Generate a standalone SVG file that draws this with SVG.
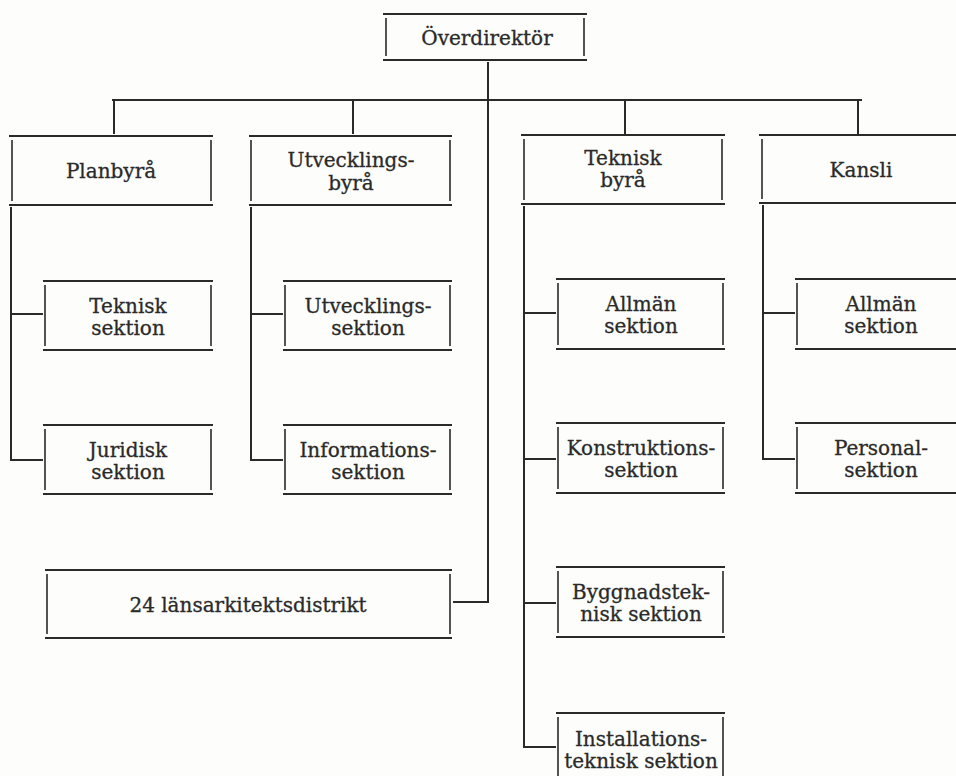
<svg xmlns="http://www.w3.org/2000/svg" width="956" height="776" viewBox="0 0 956 776">
<style>
.ln{stroke:#2a2a2a;stroke-width:2;fill:none;stroke-linecap:butt}
.sd{stroke:#2a2a2a;stroke-width:1.6;fill:none}
.t{font-family:"DejaVu Serif","Liberation Serif",serif;font-size:20px;fill:#2a2a2a;stroke:#2a2a2a;stroke-width:0.3;text-anchor:middle}
</style>
<rect width="956" height="776" fill="#fdfdfb"/>
<g id="connectors" class="ln">
<path d="M488 62V602H453"/>
<path d="M112 100H862"/>
<path d="M114 100V134M353 100V134M625 100V134M858 100V134"/>
<path d="M11 207V461M11 314H43M11 460H43"/>
<path d="M251 207V461M251 314H283M251 460H283"/>
<path d="M524 206V748M524 313H556M524 459H556M524 603H556M524 747H556"/>
<path d="M763 205V460M763 313H795M763 459H795"/>
</g>
<g id="overdirektor"><path class="ln" d="M383 14H587M383 60H587"/><path class="sd" d="M386 18V56M584 18V56"/><text class="t" x="487" y="45">Överdirektör</text></g>
<g id="planbyra"><path class="ln" d="M9 136H213M9 205H213"/><path class="sd" d="M12 140V201M211 140V201"/><text class="t" x="111" y="178">Planbyrå</text></g>
<g id="utvecklingsbyra"><path class="ln" d="M249 136H452M249 205H452"/><path class="sd" d="M251 140V201M450 140V201"/><text class="t" x="351" y="167">Utvecklings-</text><text class="t" x="351" y="190">byrå</text></g>
<g id="teknisk-byra"><path class="ln" d="M521 135H725M521 204H725"/><path class="sd" d="M524 139V200M722 139V200"/><text class="t" x="623" y="165">Teknisk</text><text class="t" x="623" y="187">byrå</text></g>
<g id="kansli"><path class="ln" d="M759 135H965M759 203H965"/><path class="sd" d="M762 139V199"/><text class="t" x="861" y="177">Kansli</text></g>
<g id="teknisk-sektion"><path class="ln" d="M43 281H213M43 350H213"/><path class="sd" d="M45 285V346M211 285V346"/><text class="t" x="128" y="313">Teknisk</text><text class="t" x="128" y="335">sektion</text></g>
<g id="juridisk-sektion"><path class="ln" d="M43 425H213M43 494H213"/><path class="sd" d="M45 429V490M211 429V490"/><text class="t" x="128" y="457">Juridisk</text><text class="t" x="128" y="479">sektion</text></g>
<g id="utvecklingssektion"><path class="ln" d="M283 281H452M283 350H452"/><path class="sd" d="M285 285V346M450 285V346"/><text class="t" x="368" y="313">Utvecklings-</text><text class="t" x="368" y="335">sektion</text></g>
<g id="informationssektion"><path class="ln" d="M283 425H452M283 494H452"/><path class="sd" d="M285 429V490M450 429V490"/><text class="t" x="368" y="457">Informations-</text><text class="t" x="368" y="479">sektion</text></g>
<g id="allman-sektion-1"><path class="ln" d="M556 279H725M556 349H725"/><path class="sd" d="M558 283V345M723 283V345"/><text class="t" x="641" y="311">Allmän</text><text class="t" x="641" y="333">sektion</text></g>
<g id="konstruktionssektion"><path class="ln" d="M556 423H725M556 493H725"/><path class="sd" d="M558 427V489M723 427V489"/><text class="t" x="641" y="455">Konstruktions-</text><text class="t" x="641" y="477">sektion</text></g>
<g id="byggnadsteknisk-sektion"><path class="ln" d="M556 567H725M556 637H725"/><path class="sd" d="M558 571V633M723 571V633"/><text class="t" x="641" y="599">Byggnadstek-</text><text class="t" x="641" y="621">nisk sektion</text></g>
<g id="installationsteknisk-sektion"><path class="ln" d="M556 713H725M556 783H725"/><path class="sd" d="M558 717V779M723 717V779"/><text class="t" x="641" y="746">Installations-</text><text class="t" x="641" y="768">teknisk sektion</text></g>
<g id="allman-sektion-2"><path class="ln" d="M795 279H965M795 349H965"/><path class="sd" d="M797 283V345"/><text class="t" x="881" y="311">Allmän</text><text class="t" x="881" y="333">sektion</text></g>
<g id="personalsektion"><path class="ln" d="M795 423H965M795 493H965"/><path class="sd" d="M797 427V489"/><text class="t" x="881" y="455">Personal-</text><text class="t" x="881" y="477">sektion</text></g>
<g id="lansarkitektsdistrikt"><path class="ln" d="M45 570H452M45 638H452"/><path class="sd" d="M47 574V634M450 574V634"/><text class="t" x="248" y="612">24 länsarkitektsdistrikt</text></g>
</svg>
